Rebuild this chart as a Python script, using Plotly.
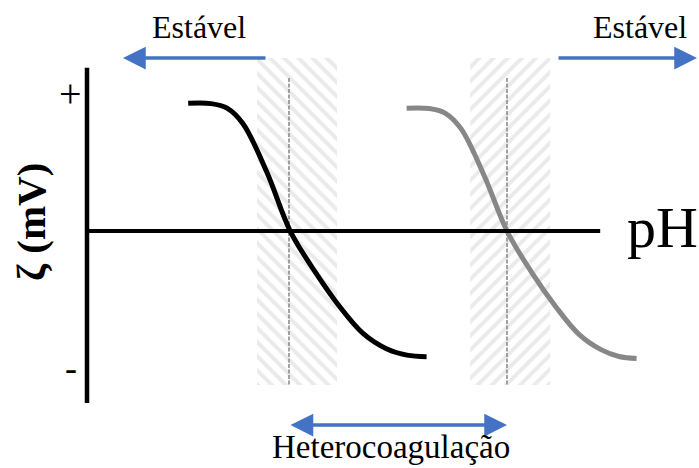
import plotly.graph_objects as go

# Zeta potential (mV) versus pH for two oxide surfaces (schematic)
ph_a = [2.53, 3.10, 3.50, 3.90, 4.50, 5.08, 5.70, 6.30, 6.90, 7.50, 8.00, 8.49]
zeta_a = [39.3, 39.2, 37.8, 33.0, 18.0, 0.0, -12.5, -23.0, -31.5, -36.3, -38.2, -38.7]

ph_b = [7.99, 8.55, 8.95, 9.35, 9.93, 10.50, 11.12, 11.72, 12.30, 12.85, 13.30, 13.74]
zeta_b = [37.8, 37.7, 36.3, 31.5, 17.0, 0.0, -12.8, -23.3, -31.8, -36.5, -38.6, -39.2]

# Isoelectric points and the zones around them
iep = [5.05, 10.50]
zone_left = [4.25, 9.58]
zone_right = [6.25, 11.58]
zone_top, zone_bottom = 53.2, -47.4
zone_hatch = ["\\", "/"]
iep_line_top = 47.1

# Axis extents (pH / mV)
ph_axis_end = 12.83
zeta_axis_top, zeta_axis_bottom = 50.2, -52.9

# Stability arrows
arrow_level = 53.2
stable_low = (4.5, 0.9)      # tail, head
stable_high = (11.75, 15.25)  # tail, head
hetero_level = -59.7

X_RANGE = [-2.175, 15.3]
Y_RANGE = [-72.92, 71.08]

BLUE = "#4472C4"
SERIF = "Liberation Serif, Times New Roman, serif"

fig = go.Figure()

# hatched zones around each isoelectric point
for lo, hi, hatch in zip(zone_left, zone_right, zone_hatch):
    fig.add_trace(go.Bar(
        x=[(lo + hi) / 2], y=[zone_top - zone_bottom], base=[zone_bottom], width=[hi - lo],
        marker=dict(color="white", line=dict(width=0),
                    pattern=dict(shape=hatch, fgcolor="#d6d6d6", bgcolor="white",
                                 size=10, solidity=0.4)),
        hoverinfo="skip", showlegend=False,
    ))

# dashed markers at the isoelectric points
for c in iep:
    fig.add_trace(go.Scatter(
        x=[c, c], y=[iep_line_top, zone_bottom], mode="lines",
        line=dict(color="#8c8c8c", width=1.6, dash="4px,1.5px"),
        hoverinfo="skip", showlegend=False,
    ))

# zeta potential curves
fig.add_trace(go.Scatter(x=ph_b, y=zeta_b, mode="lines", line_shape="spline",
                         line=dict(color="#878787", width=5, smoothing=1.0), showlegend=False))
fig.add_trace(go.Scatter(x=ph_a, y=zeta_a, mode="lines", line_shape="spline",
                         line=dict(color="#000000", width=5, smoothing=1.0), showlegend=False))

# axes
fig.add_trace(go.Scatter(x=[0, ph_axis_end], y=[0, 0], mode="lines",
                         line=dict(color="#000000", width=4), showlegend=False))
fig.add_trace(go.Scatter(x=[0, 0], y=[zeta_axis_top, zeta_axis_bottom], mode="lines",
                         line=dict(color="#000000", width=4.5), showlegend=False))

ann = []
# stability arrows
ann.append(dict(x=stable_low[1], y=arrow_level, ax=stable_low[0], ay=arrow_level,
                xref="x", yref="y", axref="x", ayref="y", text="", showarrow=True,
                arrowhead=2, arrowsize=1.3, arrowwidth=3.5, arrowcolor=BLUE))
ann.append(dict(x=stable_high[1], y=arrow_level, ax=stable_high[0], ay=arrow_level,
                xref="x", yref="y", axref="x", ayref="y", text="", showarrow=True,
                arrowhead=2, arrowsize=1.3, arrowwidth=3.5, arrowcolor=BLUE))
ann.append(dict(x=iep[1], y=hetero_level, ax=iep[0], ay=hetero_level,
                xref="x", yref="y", axref="x", ayref="y", text="", showarrow=True,
                arrowhead=2, startarrowhead=2, arrowside="end+start",
                arrowsize=1.3, startarrowsize=1.3, arrowwidth=3.5, arrowcolor=BLUE))

# texts
ann.append(dict(x=2.8, y=62.8, text="Estável", showarrow=False,
                font=dict(family=SERIF, size=32, color="#000")))
ann.append(dict(x=13.83, y=62.8, text="Estável", showarrow=False,
                font=dict(family=SERIF, size=32, color="#000")))
ann.append(dict(x=7.6, y=-66.5, text="Heterocoagulação", showarrow=False,
                font=dict(family=SERIF, size=33, color="#000")))
ann.append(dict(x=14.375, y=1.0, text="pH", showarrow=False,
                font=dict(family=SERIF, size=58, color="#000")))
ann.append(dict(x=-0.425, y=42.2, text="+", showarrow=False,
                font=dict(family=SERIF, size=40, color="#000")))
ann.append(dict(x=-0.4, y=-42.0, text="-", showarrow=False,
                font=dict(family=SERIF, size=36, color="#000")))
ann.append(dict(x=-1.4, y=2.8, text="<b>ζ (mV)</b>", showarrow=False, textangle=-90,
                font=dict(family=SERIF, size=41, color="#000")))

fig.update_layout(
    width=699, height=468,
    margin=dict(l=0, r=0, t=0, b=0),
    paper_bgcolor="white", plot_bgcolor="white",
    barmode="overlay",
    xaxis=dict(range=X_RANGE, visible=False, fixedrange=True),
    yaxis=dict(range=Y_RANGE, visible=False, fixedrange=True),
    annotations=ann,
    showlegend=False,
)

fig.write_html("out.html")
